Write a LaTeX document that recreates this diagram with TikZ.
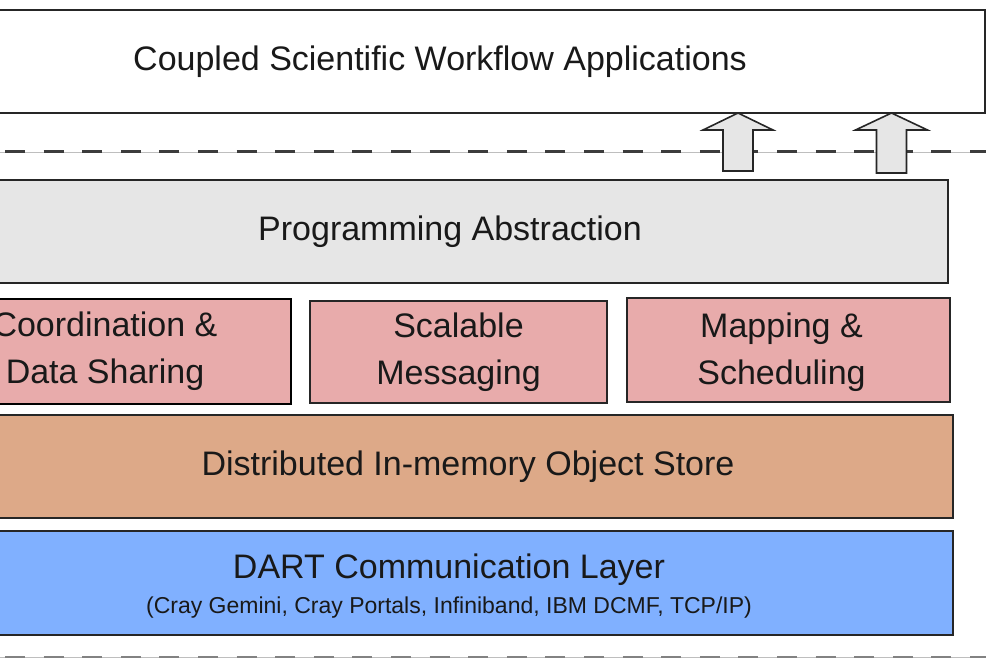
\documentclass[tikz,border=0pt]{standalone}
\usepackage{fontspec}
\setmainfont{Liberation Sans}
\definecolor{edge}{RGB}{38,38,38}
\definecolor{txt}{RGB}{25,25,25}
\definecolor{layergray}{RGB}{230,230,230}
\definecolor{layerpink}{RGB}{232,171,171}
\definecolor{layertan}{RGB}{221,169,136}
\definecolor{layerblue}{RGB}{128,176,255}
\definecolor{sepline}{RGB}{190,190,190}
\definecolor{sepdash}{RGB}{60,60,60}
\definecolor{lowdash}{RGB}{130,130,130}
\tikzset{
  layer/.style={draw=edge, line width=2pt, rectangle, inner sep=0pt,
    text=txt, align=center, font=\fontsize{34}{47}\selectfont},
  label/.style={text=txt, inner sep=0pt, align=center, font=\fontsize{34}{47}\selectfont},
  upblock/.style={draw=edge, line width=1.6pt, fill=layergray, line join=miter},
  sepbase/.style={draw=sepline, line width=0.8pt},
  sepdashes/.style={draw=sepdash, line width=3pt, dash pattern=on 20pt off 18.6pt},
}
\begin{document}
\begin{tikzpicture}[x=1pt,y=-1pt]
\useasboundingbox (0,0) rectangle (986,658);
\clip (0,0) rectangle (986,658);

% application layer
\node[layer, fill=white, minimum width=1090pt, minimum height=103pt]
  (apps) at (440,61.5) {Coupled Scientific Workflow Applications};

% separator between applications and the framework
\coordinate (sepL) at (0,152);
\coordinate (sepR) at (986,152);
\draw[sepbase] (sepL) -- (sepR);
\draw[sepdashes] ([xshift=5pt]sepL) -- (sepR);

% data flowing up to the applications (block arrows)
\coordinate (tipA) at (738,113);
\coordinate (tipB) at (891.5,113);
\draw[upblock] ([xshift=-15pt,yshift=-58pt]tipA) -- ([xshift=-15pt,yshift=-17pt]tipA)
  -- ([xshift=-35pt,yshift=-17pt]tipA) -- (tipA) -- ([xshift=35pt,yshift=-17pt]tipA)
  -- ([xshift=15pt,yshift=-17pt]tipA) -- ([xshift=15pt,yshift=-58pt]tipA) -- cycle;
\draw[upblock] ([xshift=-15pt,yshift=-60pt]tipB) -- ([xshift=-15pt,yshift=-17pt]tipB)
  -- ([xshift=-36pt,yshift=-17pt]tipB) -- (tipB) -- ([xshift=36pt,yshift=-17pt]tipB)
  -- ([xshift=15pt,yshift=-17pt]tipB) -- ([xshift=15pt,yshift=-60pt]tipB) -- cycle;

% framework layers
\node[layer, fill=layergray, minimum width=996pt, minimum height=103pt]
  (prog) at (450,231.5) {Programming Abstraction};

\node[layer, fill=layerpink, line width=2.8pt, draw=black, minimum width=372pt, minimum height=105pt]
  (coord) at (105,351.5) {Coordination \&\\Data Sharing};
\node[layer, fill=layerpink, minimum width=297pt, minimum height=102pt]
  (msg) at (458.5,352) {Scalable\\Messaging};
\node[layer, fill=layerpink, minimum width=323pt, minimum height=104pt]
  (map) at (788.5,350) {};
\node[label] (maptext) at ([xshift=-7pt,yshift=-2pt]map.center) {Mapping \&\\Scheduling};

\node[layer, fill=layertan, minimum width=970pt, minimum height=103pt]
  (store) at (468,466.5) {Distributed In-memory Object Store};

\node[layer, fill=layerblue, minimum width=1008pt, minimum height=104pt]
  (dart) at (449,583) {};
\node[text=txt, font=\fontsize{34}{40}\selectfont, inner sep=0pt]
  (dartname) at ([yshift=13pt]dart.center) {DART Communication Layer};
\node[text=txt, font=\fontsize{23}{28}\selectfont, inner sep=0pt]
  (dartnets) at ([yshift=-25pt]dart.center) {(Cray Gemini, Cray Portals, Infiniband, IBM DCMF, TCP/IP)};

% lower separator
\coordinate (lowL) at (0,657.5);
\coordinate (lowR) at (986,657.5);
\draw[sepbase] (lowL) -- (lowR);
\draw[sepdashes, draw=lowdash] ([xshift=5pt]lowL) -- (lowR);
\end{tikzpicture}
\end{document}
